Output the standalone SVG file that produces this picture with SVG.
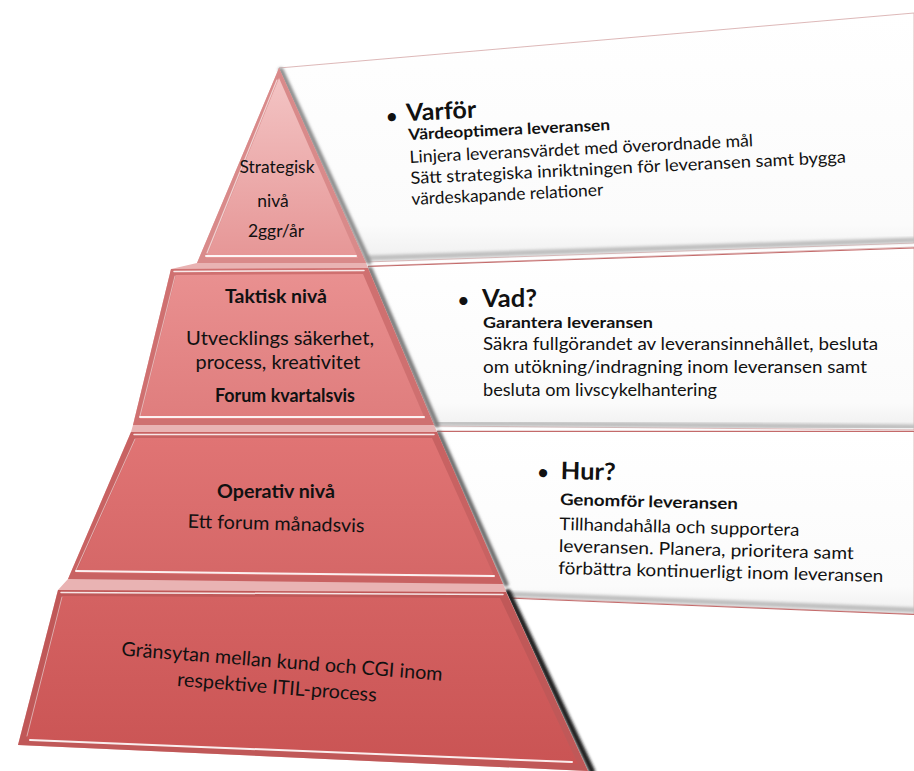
<svg xmlns="http://www.w3.org/2000/svg" width="914" height="771" viewBox="0 0 914 771">
<defs>
<style>
.t{font-family:Lato,"Liberation Sans",sans-serif;fill:#111111}
.b{font-weight:bold}
.hl{fill:none;stroke:#fff;stroke-linecap:round}
.sh{fill:none;stroke-linecap:round}
.pe{fill:url(#pg);stroke:#d4a6a6;stroke-width:0.8}
</style>
<filter id="bl" x="-20%" y="-20%" width="140%" height="140%"><feGaussianBlur stdDeviation="1.6"/></filter>
<linearGradient id="pg" x1="0" y1="0" x2="0" y2="1"><stop offset="0" stop-color="#ffffff"/><stop offset="0.85" stop-color="#fbfbfb"/><stop offset="1" stop-color="#efefef"/></linearGradient>
<linearGradient id="g1" x1="0" y1="0" x2="0" y2="1"><stop offset="0" stop-color="#f3c4c4"/><stop offset="1" stop-color="#e69696"/></linearGradient>
<linearGradient id="g2" x1="0" y1="0" x2="0" y2="1"><stop offset="0" stop-color="#e99090"/><stop offset="1" stop-color="#df7d7d"/></linearGradient>
<linearGradient id="g3" x1="0" y1="0" x2="0" y2="1"><stop offset="0" stop-color="#e07474"/><stop offset="1" stop-color="#d56767"/></linearGradient>
<linearGradient id="g4" x1="0" y1="0" x2="0" y2="1"><stop offset="0" stop-color="#d46262"/><stop offset="1" stop-color="#ca5454"/></linearGradient>
</defs>
<rect width="914" height="771" fill="#ffffff"/>

<!-- panels -->
<g id="panel-varfor">
<polygon class="pe" points="279,68 914,13 914,243 366,262"/>
<line class="sh" x1="368" y1="258" x2="914" y2="240" stroke="#bdbdbd" stroke-width="5" filter="url(#bl)"/>
</g>
<g id="panel-vad">
<polygon class="pe" points="368,266 914,247 914,430 435,426"/>
<line x1="368" y1="266.5" x2="914" y2="248" stroke="#c46a6a" stroke-width="1"/>
<line class="sh" x1="436" y1="423" x2="914" y2="427" stroke="#bdbdbd" stroke-width="5" filter="url(#bl)"/>
</g>
<g id="panel-hur">
<polygon class="pe" points="437,431 914,431 914,614 506,597"/>
<line x1="437" y1="431.5" x2="914" y2="431.5" stroke="#c46a6a" stroke-width="1"/>
<line class="sh" x1="507" y1="594" x2="914" y2="610" stroke="#bdbdbd" stroke-width="5" filter="url(#bl)"/>
<line x1="507" y1="598" x2="914" y2="614.5" stroke="#c46a6a" stroke-width="1"/>
</g>

<!-- pyramid right-edge shadows -->
<g id="shadows">
<line class="sh" x1="281" y1="70" x2="369" y2="262" stroke="#8c8c8c" stroke-width="5" filter="url(#bl)"/>
<line class="sh" x1="370" y1="269" x2="437" y2="425" stroke="#7a7a7a" stroke-width="5" filter="url(#bl)"/>
<line class="sh" x1="439" y1="433" x2="506" y2="584" stroke="#6a6a6a" stroke-width="5" filter="url(#bl)"/>
<line class="sh" x1="508" y1="592" x2="592" y2="771" stroke="#1a1a1a" stroke-width="6" filter="url(#bl)"/>
</g>

<!-- pyramid silhouette (gaps between bands) -->
<polygon points="279,68 366,263 368,268 434,425 437,432 503,584 506,591 588,771 18,745 58,590 68,579 131,432 133,425 171,269 197,263" fill="#e9b3b3"/>

<g id="level-strategisk">
<polygon points="279,68 197,263 366,263" fill="#d98a8a"/>
<polygon points="279,78 206,258 358,258" fill="url(#g1)"/>
<line class="hl" x1="206" y1="256" x2="356" y2="256" stroke-width="2" opacity="0.9"/>
<line class="hl" x1="277" y1="80" x2="207" y2="253" stroke-width="1.2" opacity="0.6"/>
</g>
<g id="level-taktisk">
<polygon points="171,269 368,268 434,425 133,425" fill="#cf7070"/>
<polygon points="176,275 363,274 425,419 140,419" fill="url(#g2)"/>
<line class="hl" x1="174" y1="271.5" x2="364" y2="270.5" stroke-width="1.5" opacity="0.85"/>
<line class="hl" x1="140" y1="417" x2="424" y2="417" stroke-width="2" opacity="0.9"/>
<line class="hl" x1="175" y1="276" x2="140" y2="416" stroke-width="1" opacity="0.5"/>
</g>
<g id="level-operativ">
<polygon points="131,432 437,432 503,584 68,579" fill="#c86262"/>
<polygon points="136,438 432,438 495,578 76,573" fill="url(#g3)"/>
<line class="hl" x1="134" y1="434.5" x2="434" y2="434.5" stroke-width="1.5" opacity="0.85"/>
<line class="hl" x1="76" y1="571" x2="494" y2="576" stroke-width="2" opacity="0.9"/>
<line class="hl" x1="135" y1="439" x2="76" y2="570" stroke-width="1" opacity="0.5"/>
</g>
<g id="level-granssnitt">
<polygon points="58,590 506,592 588,771 18,745" fill="#c05858"/>
<polygon points="63,596 500,598 578,764 27,739" fill="url(#g4)"/>
<line class="hl" x1="61" y1="592.5" x2="503" y2="594.5" stroke-width="1.5" opacity="0.85"/>
<line class="hl" x1="30" y1="740" x2="572" y2="762" stroke-width="2" opacity="0.9"/>
<line class="hl" x1="62" y1="597" x2="27" y2="736" stroke-width="1" opacity="0.5"/>
</g>

<!-- pyramid texts -->
<g id="text-strategisk" class="t" font-size="17.5" text-anchor="middle">
<text x="277" y="173" textLength="75" lengthAdjust="spacingAndGlyphs">Strategisk</text>
<text x="273" y="207">nivå</text>
<text x="276" y="237">2ggr/år</text>
</g>
<g id="text-taktisk" class="t" text-anchor="middle">
<text x="276" y="303" class="b" font-size="19" textLength="102" lengthAdjust="spacingAndGlyphs">Taktisk nivå</text>
<text x="280" y="345" font-size="20" textLength="188" lengthAdjust="spacingAndGlyphs">Utvecklings säkerhet,</text>
<text x="278" y="369" font-size="20" textLength="165" lengthAdjust="spacingAndGlyphs">process, kreativitet</text>
<text x="285" y="402" class="b" font-size="19" textLength="140" lengthAdjust="spacingAndGlyphs">Forum kvartalsvis</text>
</g>
<g id="text-operativ" class="t" text-anchor="middle">
<text x="276" y="498" class="b" font-size="19" textLength="118" lengthAdjust="spacingAndGlyphs">Operativ nivå</text>
<text x="276" y="530" font-size="19" textLength="177" lengthAdjust="spacingAndGlyphs" transform="rotate(1.5 276 525)">Ett forum månadsvis</text>
</g>
<g id="text-granssnitt" class="t" text-anchor="middle" font-size="19.5" transform="rotate(4.5 280 675)">
<text x="281" y="668" textLength="322" lengthAdjust="spacingAndGlyphs">Gränsytan mellan kund och CGI inom</text>
<text x="278" y="694" textLength="200" lengthAdjust="spacingAndGlyphs">respektive ITIL-process</text>
</g>

<!-- panel texts -->
<g id="text-varfor" class="t" transform="rotate(-2.8 409 150)">
<text x="387" y="123" font-size="22">•</text>
<text x="408" y="121" class="b" font-size="24" textLength="70" lengthAdjust="spacingAndGlyphs">Varför</text>
<text x="409" y="140" class="b" font-size="15.5" textLength="202" lengthAdjust="spacingAndGlyphs">Värdeoptimera leveransen</text>
<text x="409" y="163" font-size="17" textLength="344" lengthAdjust="spacingAndGlyphs">Linjera leveransvärdet med överordnade mål</text>
<text x="409" y="184" font-size="17" textLength="436" lengthAdjust="spacingAndGlyphs">Sätt strategiska inriktningen för leveransen samt bygga</text>
<text x="409" y="205" font-size="17" textLength="192" lengthAdjust="spacingAndGlyphs">värdeskapande relationer</text>
</g>
<g id="text-vad" class="t">
<text x="457" y="308" font-size="22">•</text>
<text x="482" y="307" class="b" font-size="24" textLength="55" lengthAdjust="spacingAndGlyphs">Vad?</text>
<text x="483" y="328" class="b" font-size="15.5" textLength="170" lengthAdjust="spacingAndGlyphs">Garantera leveransen</text>
<text x="483" y="350" font-size="17.5" textLength="395" lengthAdjust="spacingAndGlyphs">Säkra fullgörandet av leveransinnehållet, besluta</text>
<text x="483" y="373" font-size="17.5" textLength="384" lengthAdjust="spacingAndGlyphs">om utökning/indragning inom leveransen samt</text>
<text x="483" y="396" font-size="17.5" textLength="234" lengthAdjust="spacingAndGlyphs">besluta om livscykelhantering</text>
</g>
<g id="text-hur" class="t" transform="rotate(1.4 560 500)">
<text x="536" y="480" font-size="22">•</text>
<text x="560" y="479" class="b" font-size="24" textLength="55" lengthAdjust="spacingAndGlyphs">Hur?</text>
<text x="560" y="505" class="b" font-size="16" textLength="178" lengthAdjust="spacingAndGlyphs">Genomför leveransen</text>
<text x="560" y="530" font-size="17.5" textLength="240" lengthAdjust="spacingAndGlyphs">Tillhandahålla och supportera</text>
<text x="560" y="552" font-size="17.5" textLength="295" lengthAdjust="spacingAndGlyphs">leveransen. Planera, prioritera samt</text>
<text x="560" y="574" font-size="17.5" textLength="325" lengthAdjust="spacingAndGlyphs">förbättra kontinuerligt inom leveransen</text>
</g>
</svg>
